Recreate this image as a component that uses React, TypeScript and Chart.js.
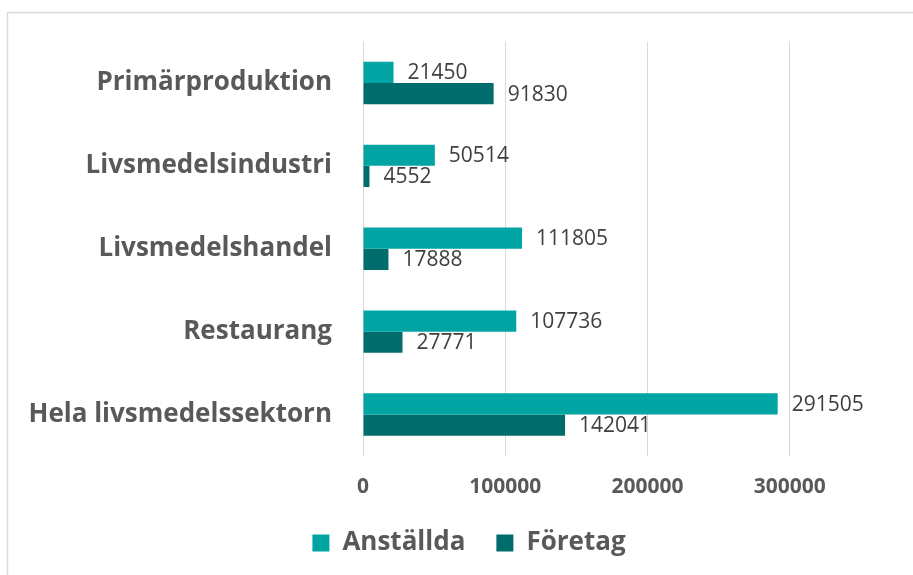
import React, { useEffect, useRef } from 'react';
import { Chart, registerables } from 'chart.js';

Chart.register(...registerables);

const categories = ['Primärproduktion', 'Livsmedelsindustri', 'Livsmedelshandel', 'Restaurang', 'Hela livsmedelssektorn'];
const anstallda = [21450, 50514, 111805, 107736, 291505];
const foretag = [91830, 4552, 17888, 27771, 142041];
const seriesNames = ['Anställda', 'Företag'];
const seriesColors = ['#00A5A3', '#006C6C'];
const xTickValues = [0, 100000, 200000, 300000];
const xMax = 400000;

const FONT = "'Open Sans', 'Noto Sans', sans-serif";

const framePlugin = {
  id: 'frame',
  beforeDraw(chart: any) {
    const ctx = chart.ctx;
    ctx.save();
    ctx.fillStyle = '#ffffff';
    ctx.fillRect(0, 0, chart.width, chart.height);
    ctx.strokeStyle = '#d9d9d9';
    ctx.lineWidth = 1.5;
    ctx.beginPath();
    ctx.moveTo(7.5, chart.height);
    ctx.lineTo(7.5, 12.5);
    ctx.lineTo(chart.width, 12.5);
    ctx.stroke();
    ctx.restore();
  },
};

const valueLabelPlugin = {
  id: 'valueLabels',
  afterDatasetsDraw(chart: any) {
    const ctx = chart.ctx;
    ctx.save();
    ctx.font = `21px ${FONT}`;
    ctx.fillStyle = '#404040';
    ctx.textAlign = 'left';
    ctx.textBaseline = 'middle';
    chart.data.datasets.forEach((ds: any, di: number) => {
      const meta = chart.getDatasetMeta(di);
      meta.data.forEach((bar: any, i: number) => {
        ctx.fillText(String(ds.data[i]), bar.x + 14, bar.y + 1);
      });
    });
    ctx.restore();
  },
};

export default function App() {
  const canvasRef = useRef<HTMLCanvasElement | null>(null);

  useEffect(() => {
    if (!canvasRef.current) return;
    const chart = new Chart(canvasRef.current, {
      type: 'bar',
      data: {
        labels: categories,
        datasets: [
          { label: seriesNames[0], data: anstallda, backgroundColor: seriesColors[0], borderWidth: 0 },
          { label: seriesNames[1], data: foretag, backgroundColor: seriesColors[1], borderWidth: 0 },
        ],
      },
      options: {
        indexAxis: 'y',
        responsive: false,
        animation: false,
        layout: { padding: { top: 41.5, left: 6, right: 6, bottom: 9 } },
        datasets: { bar: { categoryPercentage: 0.511, barPercentage: 1.0 } },
        scales: {
          x: {
            type: 'linear',
            position: 'bottom',
            min: 0,
            max: xMax,
            afterBuildTicks: (scale: any) => {
              scale.ticks = xTickValues.map((v) => ({ value: v }));
            },
            afterFit: (scale: any) => {
              scale.height = 43;
            },
            grid: { color: '#d9d9d9', lineWidth: 1, drawTicks: false },
            border: { display: false },
            ticks: {
              padding: 18,
              color: '#595959',
              font: { family: FONT, size: 21, weight: 'bold' },
              callback: (v: any) => String(v),
            },
          },
          y: {
            type: 'category',
            grid: { display: false, drawTicks: false },
            border: { display: false },
            afterFit: (scale: any) => {
              scale.width = 357;
              scale.paddingTop = 0;
              scale.paddingBottom = 0;
            },
            ticks: {
              padding: 31,
              autoSkip: false,
              color: '#595959',
              font: { family: FONT, size: 26, weight: 'bold' },
            },
          },
        },
        plugins: {
          tooltip: { enabled: false },
          legend: {
            position: 'bottom',
            labels: {
              boxWidth: 17,
              boxHeight: 17,
              padding: 31,
              color: '#595959',
              font: { family: FONT, size: 26, weight: 'bold' },
            },
          },
        },
      },
      plugins: [framePlugin, valueLabelPlugin],
    } as any);
    return () => chart.destroy();
  }, []);

  return (
    <div style={{ position: 'fixed', left: 0, top: 0, width: 913, height: 575, overflow: 'hidden', background: '#fff' }}>
      <canvas ref={canvasRef} width={938} height={575} style={{ display: 'block' }} />
    </div>
  );
}
